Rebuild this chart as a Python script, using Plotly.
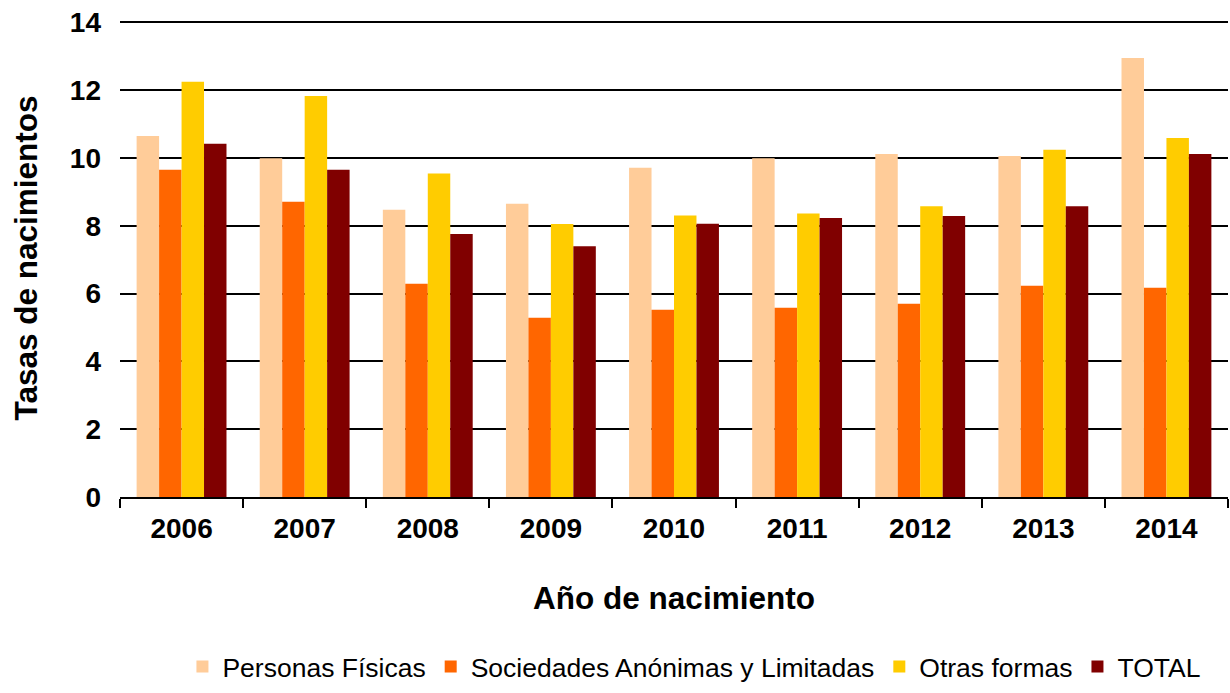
import plotly.graph_objects as go

years = ["2006", "2007", "2008", "2009", "2010", "2011", "2012", "2013", "2014"]
personas_fisicas = [10.65, 9.99, 8.47, 8.65, 9.71, 9.99, 10.12, 10.06, 12.95]
sociedades = [9.65, 8.71, 6.29, 5.29, 5.52, 5.58, 5.70, 6.23, 6.17]
otras_formas = [12.25, 11.83, 9.54, 8.05, 8.30, 8.36, 8.58, 10.24, 10.59]
total = [10.42, 9.65, 7.76, 7.40, 8.06, 8.23, 8.29, 8.58, 10.12]

series = [
    ("Personas Físicas", personas_fisicas, "#FFCC99"),
    ("Sociedades Anónimas y Limitadas", sociedades, "#FF6600"),
    ("Otras formas", otras_formas, "#FFCC00"),
    ("TOTAL", total, "#800000"),
]

FONT = "Liberation Sans, Arial, sans-serif"

fig = go.Figure()
for name, vals, color in series:
    fig.add_trace(go.Bar(x=years, y=vals, name=name, marker_color=color,
                         marker_line_width=0))

fig.update_layout(
    width=1230, height=693,
    margin=dict(l=120, r=2, t=19, b=196),
    paper_bgcolor="white", plot_bgcolor="white",
    barmode="group", bargap=0.27, bargroupgap=0,
    font=dict(family=FONT, color="black"),
    legend=dict(orientation="h", x=0.518, xanchor="center", y=-0.355, yanchor="middle",
                font=dict(size=26.5, family=FONT), traceorder="normal"),
)
fig.update_xaxes(
    type="category", automargin=False,
    showline=True, linecolor="black", linewidth=2,
    ticks="outside", tickson="boundaries", ticklen=9, tickwidth=2, tickcolor="black",
    ticklabelstandoff=5,
    tickfont=dict(size=28, family=FONT, weight="bold"),
    title=dict(text="Año de nacimiento", font=dict(size=31.5, family=FONT, weight="bold"),
               standoff=44),
    showgrid=False,
)
fig.update_yaxes(
    range=[0, 14.1], dtick=2, tick0=0, automargin=False,
    showgrid=True, gridcolor="black", gridwidth=2,
    zeroline=False, showline=False,
    ticks="", ticklabelstandoff=18, ticklabeloverflow="allow",
    tickfont=dict(size=28, family=FONT, weight="bold"),
    title=dict(text="Tasas de nacimientos", font=dict(size=31.5, family=FONT, weight="bold"),
               standoff=22),
)

fig.write_html("out.html", config={"displayModeBar": False},
               post_script="document.body.style.margin='0';document.body.style.overflow='hidden';")
